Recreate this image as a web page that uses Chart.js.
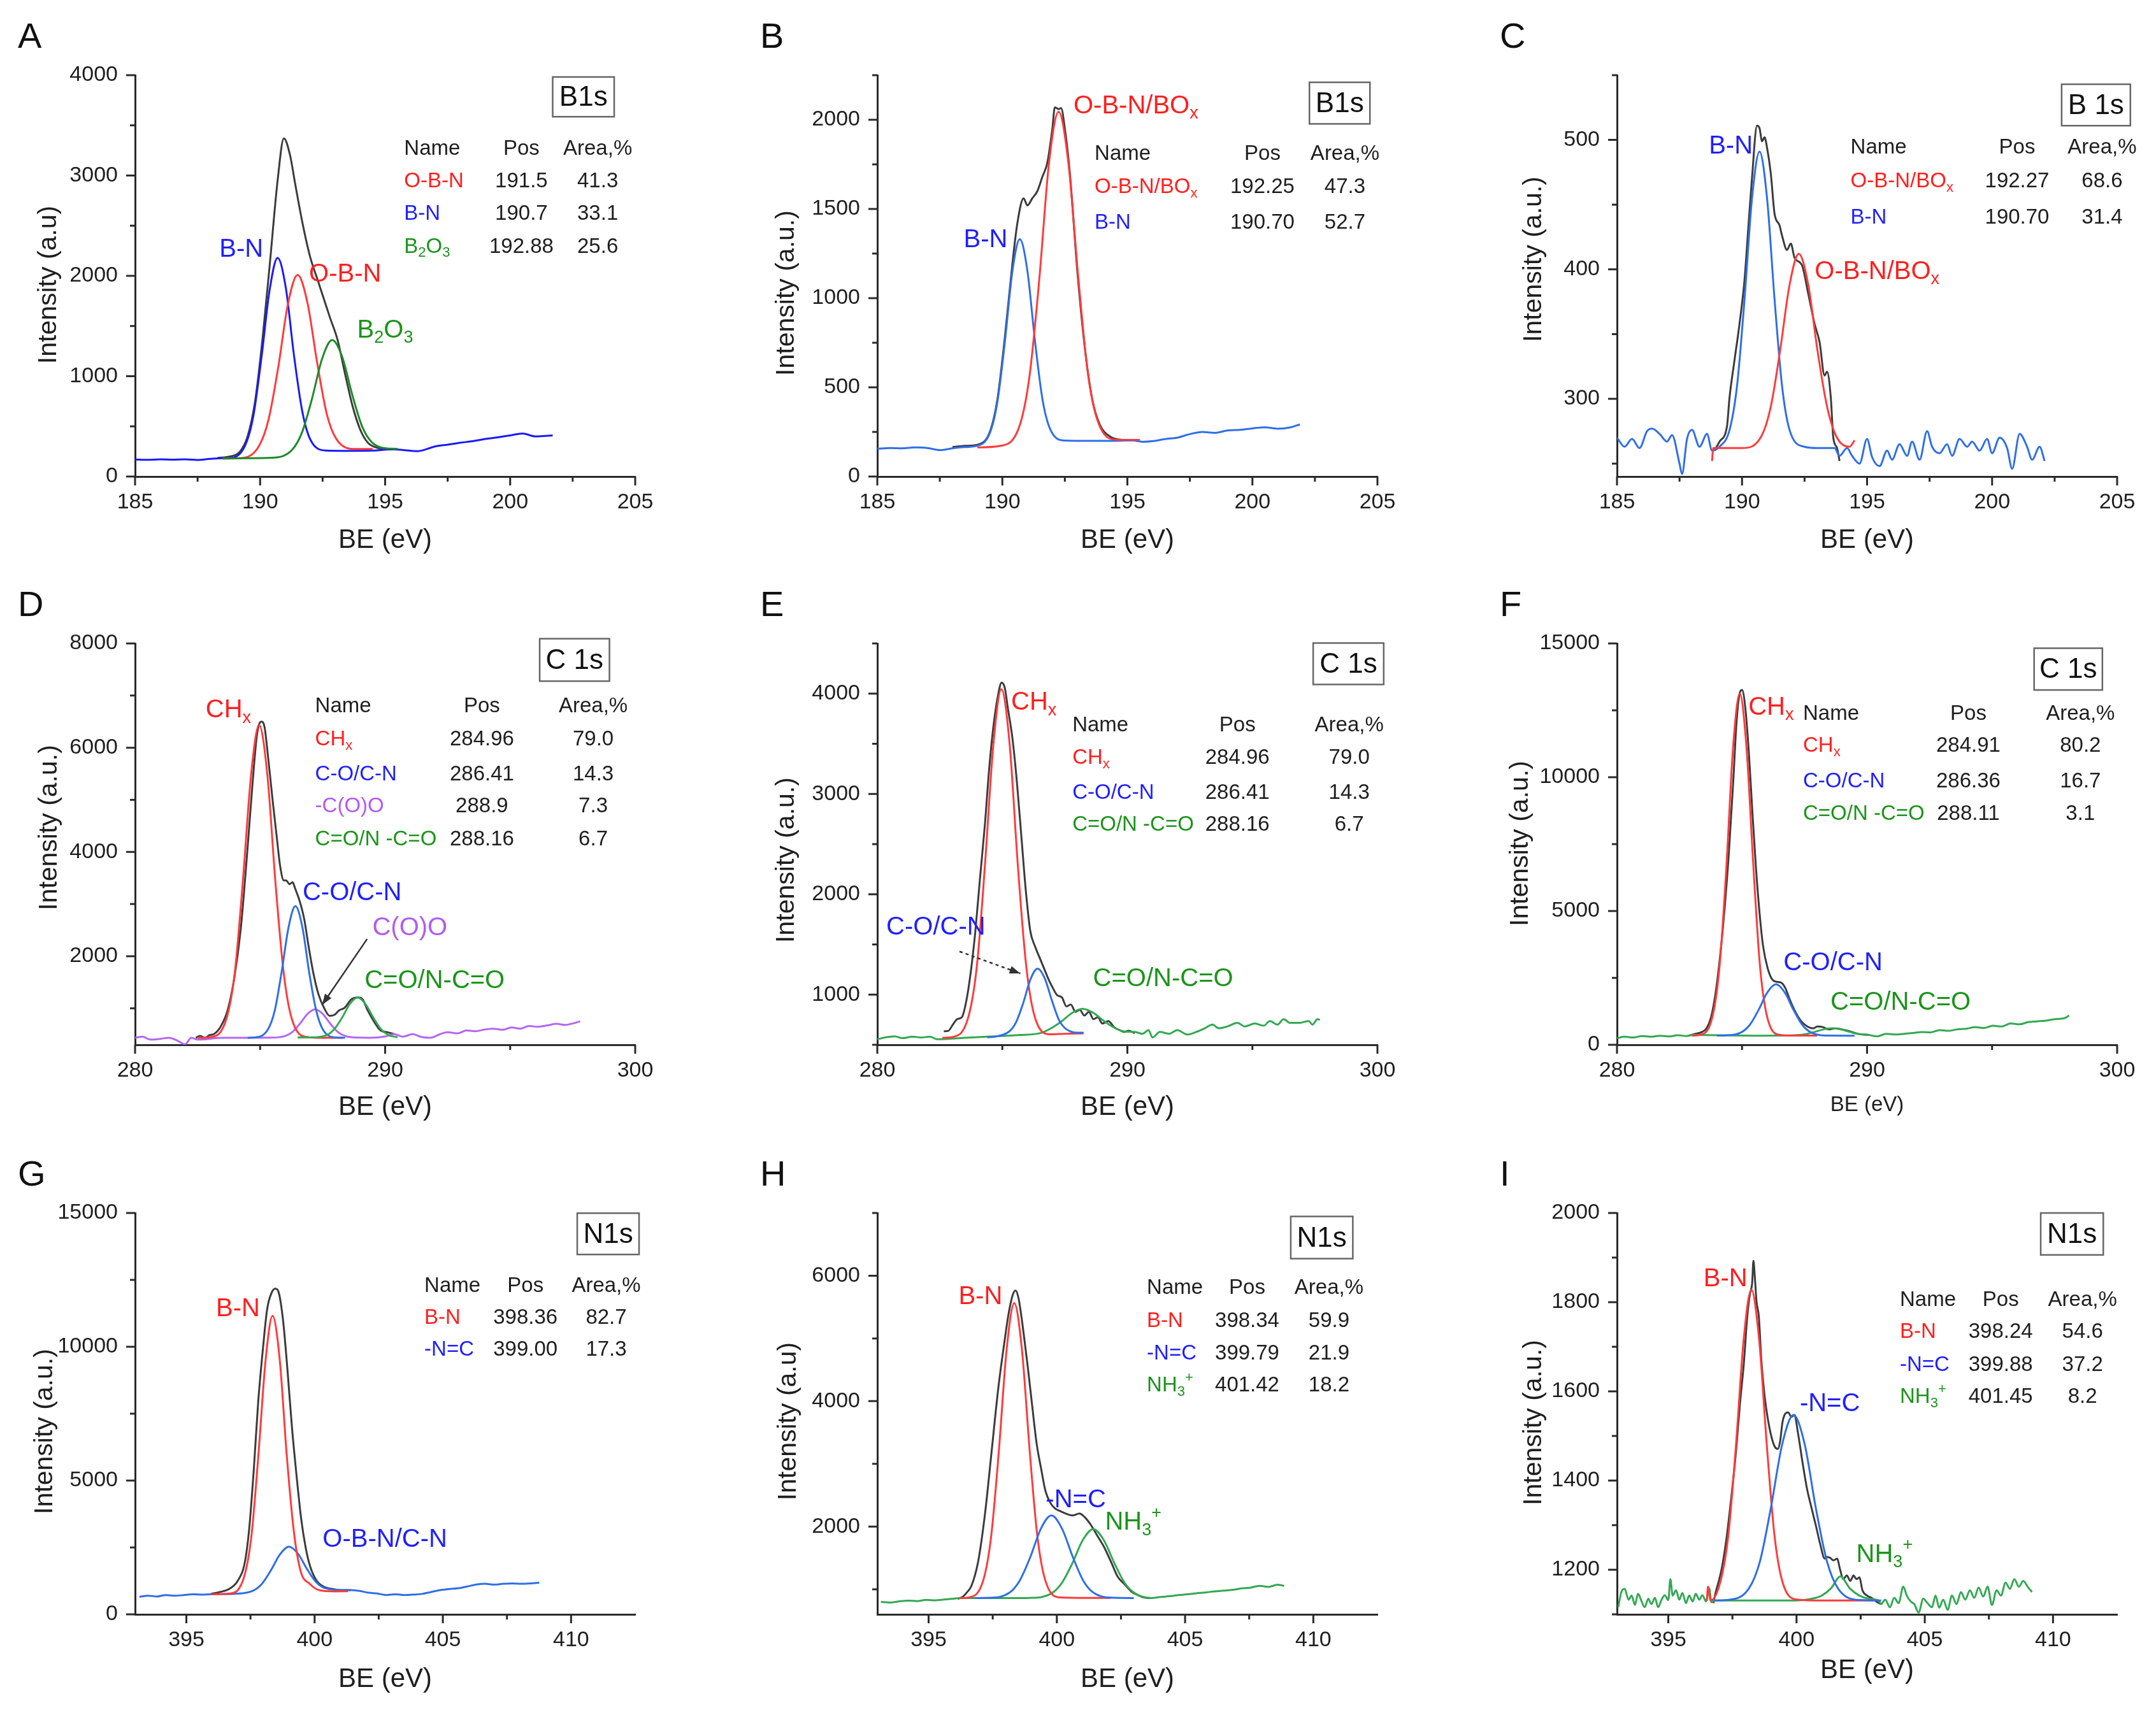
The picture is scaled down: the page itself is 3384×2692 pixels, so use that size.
<!DOCTYPE html>
<html>
<head>
<meta charset="utf-8">
<title>XPS B1s / C1s / N1s</title>
<script src="https://cdn.jsdelivr.net/npm/chart.js@4.4.1/dist/chart.umd.min.js"></script>
<style>
  html, body { margin: 0; padding: 0; background: #fff; }
  body { width: 3384px; height: 2692px; position: relative; overflow: hidden; }
  canvas { position: absolute; }
</style>
</head>
<body>
<script>
// ---- tick labels ----
const X_B_MAJ = [185, 190, 195, 200, 205];
const X_B_MIN = [187.5, 192.5, 197.5, 202.5];
const X_C_MAJ = [280, 290, 300];
const X_C_MIN = [285, 295];
const X_N_MAJ = [395, 400, 405, 410];
const X_N_MIN = [397.5, 402.5, 407.5];

// ---- A : B1s ----
const A_BLUE_X = [185, 185.5, 186, 186.5, 187, 187.5, 188, 188.5, 188.75, 189.4, 189.73, 190.05, 190.38, 190.7, 191.03, 191.35, 191.68, 192.0, 192.65, 193.5, 194.5, 195.3, 195.8, 196.3, 197.0, 197.5, 198.0, 198.5, 199.0, 199.5, 200.0, 200.5, 201.0, 201.4, 201.7];
const A_BLUE_Y = [170, 166, 172, 168, 171, 165, 176, 183, 184, 308, 603, 1177, 1858, 2180, 1878, 1217, 658, 373, 259, 256, 258, 272, 262, 253, 300, 318, 337, 352, 374, 390, 410, 428, 400, 405, 410];
const A_RED_X = [188.5, 189.18, 189.95, 190.34, 190.73, 191.11, 191.5, 191.89, 192.28, 192.66, 193.05, 193.83, 194.5];
const A_RED_Y = [180, 183, 302, 570, 1097, 1716, 2010, 1736, 1137, 630, 374, 274, 275];
const A_GREEN_X = [188.5, 189.5, 190.48, 191.28, 191.68, 192.08, 192.48, 192.88, 193.28, 193.68, 194.08, 194.48, 195.28, 195.5];
const A_GREEN_Y = [180, 183, 187, 266, 442, 780, 1175, 1360, 1195, 820, 499, 339, 277, 276];
const A_BLACK_X = [188.3, 188.8, 189.2, 189.5, 189.8, 190.1, 190.4, 190.7, 190.95, 191.2, 191.4, 191.7, 192.0, 192.3, 192.55, 192.8, 193.1, 193.4, 193.7, 194.0, 194.3, 194.7, 195.0, 195.3];
const A_BLACK_Y = [185, 200, 250, 400, 750, 1380, 2150, 2950, 3370, 3200, 2920, 2520, 2190, 1960, 1770, 1580, 1360, 1020, 700, 470, 340, 285, 275, 272];
const A_Y_MAJ = [0, 1000, 2000, 3000, 4000];
const A_Y_MIN = [500, 1500, 2500, 3500];

// ---- B : B1s ----
const B_BLUE_X = [185, 185.5, 186, 186.5, 187, 187.5, 188, 188.5, 188.9, 189.5, 189.8, 190.1, 190.4, 190.7, 191.0, 191.3, 191.6, 191.9, 192.5, 193.5, 194.5, 195.2, 195.6, 196.0, 196.5, 197.0, 197.5, 198.0, 198.5, 199.0, 199.5, 200.0, 200.5, 201.0, 201.5, 201.9];
const B_BLUE_Y = [155, 160, 158, 163, 160, 148, 158, 165, 170, 244, 417, 753, 1149, 1330, 1155, 767, 437, 270, 202, 200, 200, 203, 195, 198, 210, 218, 238, 250, 245, 258, 262, 270, 276, 268, 275, 292];
const B_RED_X = [189.0, 189.93, 190.7, 191.09, 191.48, 191.86, 192.25, 192.64, 193.03, 193.41, 193.8, 194.58, 195.5];
const B_RED_Y = [163, 172, 289, 567, 1110, 1750, 2045, 1760, 1127, 590, 317, 206, 205];
const B_BLACK_X = [188.0, 188.5, 189.0, 189.5, 189.8, 190.1, 190.4, 190.6, 190.85, 191.0, 191.2, 191.4, 191.6, 191.8, 192.0, 192.1, 192.25, 192.35, 192.5, 192.7, 193.0, 193.3, 193.6, 193.9, 194.3, 194.8, 195.3];
const B_BLACK_Y = [165, 172, 178, 250, 430, 780, 1190, 1420, 1560, 1520, 1560, 1600, 1680, 1760, 1950, 2070, 2060, 2065, 1950, 1700, 1150, 720, 430, 290, 225, 205, 203];
const B_Y_MAJ = [0, 500, 1000, 1500, 2000];
const B_Y_MIN = [250, 750, 1250, 1750, 2250];

// ---- C : B 1s ----
const C_BLUE_X = [185.0, 185.3, 185.6, 185.9, 186.2, 186.4, 186.7, 187.0, 187.2, 187.5, 187.6, 187.8, 188.0, 188.3, 188.6, 188.8, 189.1, 189.5, 189.8, 190.1, 190.4, 190.7, 191.0, 191.3, 191.6, 191.9, 192.5, 193.0, 193.7, 193.9, 194.2, 194.4, 194.7, 195.0, 195.2, 195.5, 195.8, 196.0, 196.3, 196.6, 196.8, 197.1, 197.4, 197.6, 197.9, 198.2, 198.4, 198.7, 199.0, 199.2, 199.5, 199.8, 200.0, 200.3, 200.6, 200.8, 201.1, 201.4, 201.6, 201.9, 202.1];
const C_BLUE_Y = [270, 263, 269, 262, 275, 277, 273, 267, 272, 250, 242, 269, 276, 263, 273, 260, 263, 276, 310, 377, 455, 491, 455, 377, 310, 276, 263, 262, 262, 256, 262, 256, 250, 269, 255, 248, 260, 253, 265, 256, 267, 253, 275, 263, 258, 265, 256, 269, 263, 267, 260, 269, 258, 270, 262, 246, 273, 263, 253, 263, 252];
const C_RED_X = [188.8, 188.85, 189.2, 190.0, 190.77, 191.15, 191.52, 191.9, 192.27, 192.65, 193.02, 193.4, 193.77, 194.3, 194.5];
const C_RED_Y = [252, 262, 262, 262, 271, 294, 337, 388, 412, 388, 337, 294, 271, 263, 268];
const C_BLACK_X = [188.9, 189.1, 189.4, 189.5, 189.7, 189.9, 190.1, 190.25, 190.4, 190.6, 190.7, 190.8, 190.9, 191.0, 191.15, 191.3, 191.5, 191.6, 191.8, 191.95, 192.1, 192.4, 192.65, 192.9, 193.1, 193.3, 193.4, 193.55, 193.65, 193.8, 193.9];
const C_BLACK_Y = [260, 267, 279, 301, 330, 358, 392, 432, 471, 511, 509, 499, 502, 494, 474, 443, 434, 426, 415, 420, 409, 403, 381, 358, 344, 318, 321, 301, 270, 262, 252];
const C_Y_MAJ = [300, 400, 500];
const C_Y_MIN = [250, 350, 450, 550];

// ---- D : C 1s ----
const D_PURPLE_X = [280.0, 280.3, 280.6, 281.0, 281.35, 281.7, 282.0, 282.25, 282.5, 283.5, 284.5, 285.4, 286.0, 286.3, 286.6, 286.9, 287.2, 287.5, 287.8, 288.1, 288.4, 289.0, 289.4, 290.0, 290.35, 290.7, 291.1, 291.45, 291.8, 292.2, 292.5, 292.9, 293.25, 293.6, 293.95, 294.3, 294.7, 295.05, 295.4, 295.75, 296.1, 296.5, 296.85, 297.2, 297.55, 297.8];
const D_PURPLE_Y = [435, 456, 400, 414, 435, 379, 309, 435, 400, 435, 435, 436, 469, 550, 709, 895, 982, 895, 709, 550, 469, 436, 435, 460, 505, 456, 505, 449, 435, 505, 540, 519, 575, 561, 589, 610, 589, 632, 610, 660, 646, 674, 702, 681, 716, 751];
const D_RED_X = [282.5, 283.01, 283.66, 283.99, 284.31, 284.64, 284.96, 285.29, 285.61, 285.94, 286.26, 286.91, 287.5, 288.3];
const D_RED_Y = [435, 447, 810, 1695, 3435, 5481, 6435, 5481, 3435, 1695, 810, 447, 435, 435];
const D_BLUE_X = [284.5, 284.76, 285.31, 285.59, 285.86, 286.14, 286.41, 286.69, 286.96, 287.24, 287.51, 288.06, 288.4];
const D_BLUE_Y = [435, 440, 593, 965, 1697, 2559, 2960, 2559, 1697, 965, 593, 440, 435];
const D_GREEN_X = [286.5, 286.99, 287.65, 287.96, 288.28, 288.59, 288.9, 289.21, 289.53, 289.84, 290.15, 290.5];
const D_GREEN_Y = [440, 442, 483, 597, 821, 1084, 1207, 1084, 821, 597, 483, 445];
const D_BLACK_X = [282.43, 282.6, 282.8, 282.97, 283.15, 283.42, 283.7, 283.96, 284.23, 284.5, 284.68, 284.86, 284.95, 285.05, 285.17, 285.3, 285.5, 285.68, 285.8, 285.95, 286.04, 286.18, 286.3, 286.4, 286.58, 286.76, 286.94, 287.12, 287.33, 287.57, 287.78, 287.98, 288.16, 288.38, 288.65, 288.92, 289.1, 289.3, 289.55, 289.82, 290.1, 290.36];
const D_BLACK_Y = [435, 470, 435, 484, 505, 646, 961, 1558, 2540, 4084, 5207, 6189, 6435, 6500, 6414, 5909, 4996, 4225, 3733, 3453, 3453, 3382, 3420, 3300, 3060, 2720, 2189, 1698, 1277, 996, 856, 877, 961, 1010, 1172, 1207, 1172, 961, 751, 575, 540, 505];
const D_Y_MAJ = [2000, 4000, 6000, 8000];
const D_Y_MIN = [1000, 3000, 5000, 7000];

// ---- E : C 1s ----
const E_GREEN_X = [280.0, 280.3, 280.7, 281.0, 281.4, 281.76, 282.1, 282.4, 283.5, 284.5, 285.7, 286.5, 286.92, 287.35, 287.78, 288.2, 288.63, 289.05, 289.48, 289.9, 290.3, 290.6, 290.85, 291.0, 291.3, 291.67, 292.0, 292.4, 292.75, 293.1, 293.4, 293.65, 294.0, 294.4, 294.7, 295.1, 295.45, 295.7, 296.0, 296.25, 296.5, 296.9, 297.25, 297.4, 297.6, 297.7];
const E_GREEN_Y = [555, 573, 584, 566, 581, 573, 581, 555, 570, 582, 598, 615, 660, 730, 816, 858, 820, 740, 670, 632, 628, 610, 646, 573, 628, 610, 646, 603, 628, 665, 701, 665, 683, 719, 683, 712, 690, 737, 701, 756, 719, 719, 737, 701, 756, 748];
const E_RED_X = [282.6, 283.01, 283.66, 283.99, 284.31, 284.64, 284.96, 285.29, 285.61, 285.94, 286.26, 286.91, 287.5, 288.25];
const E_RED_Y = [570, 578, 794, 1305, 2310, 3490, 4044, 3500, 2322, 1320, 812, 605, 610, 615];
const E_BLUE_X = [284.4, 284.68, 285.26, 285.55, 285.84, 286.12, 286.41, 286.7, 286.99, 287.27, 287.56, 288.13, 288.25];
const E_BLUE_Y = [575, 580, 630, 725, 920, 1150, 1259, 1160, 935, 745, 655, 620, 620];
const E_BLACK_X = [282.66, 282.84, 283.02, 283.2, 283.38, 283.56, 283.74, 283.92, 284.1, 284.3, 284.48, 284.66, 284.84, 284.97, 285.1, 285.22, 285.4, 285.58, 285.76, 285.94, 286.12, 286.3, 286.48, 286.66, 286.84, 287.02, 287.2, 287.38, 287.56, 287.74, 287.92, 288.1, 288.28, 288.46, 288.64, 288.82, 289.0, 289.24, 289.47, 289.69, 289.87, 290.05, 290.3];
const E_BLACK_Y = [635, 639, 701, 756, 774, 938, 1230, 1631, 2141, 2688, 3271, 3709, 4000, 4110, 4055, 3855, 3563, 3125, 2579, 2032, 1631, 1485, 1375, 1266, 1157, 1066, 993, 974, 883, 902, 829, 847, 792, 829, 756, 774, 712, 737, 675, 646, 628, 639, 617];
const E_Y_MAJ = [1000, 2000, 3000, 4000];
const E_Y_MIN = [500, 1500, 2500, 3500, 4500];

// ---- F : C 1s ----
const F_GREEN_X = [280.0, 280.3, 280.65, 281.0, 281.37, 281.72, 282.08, 282.43, 282.79, 283.05, 285.5, 286.5, 287.2, 287.55, 287.9, 288.25, 288.6, 288.95, 289.3, 289.65, 290.07, 290.4, 290.77, 291.13, 291.48, 291.84, 292.19, 292.55, 292.9, 293.26, 293.6, 293.97, 294.32, 294.68, 295.03, 295.39, 295.74, 296.1, 296.45, 296.8, 297.16, 297.5, 297.87, 298.08];
const F_GREEN_Y = [247, 301, 274, 329, 301, 342, 315, 356, 329, 370, 342, 345, 362, 400, 480, 575, 620, 578, 485, 405, 370, 315, 411, 384, 411, 438, 479, 466, 548, 521, 575, 603, 658, 630, 712, 685, 795, 767, 849, 877, 904, 959, 986, 1096];
const F_RED_X = [283.0, 283.3, 283.84, 284.11, 284.38, 284.64, 284.91, 285.18, 285.45, 285.71, 285.98, 286.52, 287.0, 288.0];
const F_RED_Y = [342, 368, 1141, 3026, 6732, 11090, 13123, 11090, 6732, 3026, 1141, 368, 345, 345];
const F_BLUE_X = [284.0, 284.26, 284.96, 285.31, 285.66, 286.01, 286.36, 286.71, 287.06, 287.41, 287.76, 288.46, 289.5];
const F_BLUE_Y = [342, 346, 462, 745, 1301, 1955, 2260, 1955, 1301, 745, 462, 346, 342];
const F_BLACK_X = [282.87, 283.14, 283.4, 283.58, 283.76, 283.94, 284.12, 284.3, 284.47, 284.65, 284.77, 284.88, 285.0, 285.13, 285.27, 285.41, 285.55, 285.7, 285.84, 286.02, 286.19, 286.37, 286.55, 286.73, 286.9, 287.13, 287.36, 287.61, 287.84, 288.02, 288.25, 288.46, 288.73, 289.0, 289.26, 289.53, 289.8, 290.07];
const F_BLACK_Y = [342, 411, 479, 616, 1027, 1918, 3288, 5068, 7123, 9863, 11918, 13014, 13260, 12603, 10959, 8767, 6712, 4932, 3699, 2877, 2466, 2356, 2329, 2123, 1712, 1233, 890, 685, 616, 685, 658, 575, 616, 575, 521, 438, 384, 370];
const F_Y_MAJ = [0, 5000, 10000, 15000];
const F_Y_MIN = [2500, 7500, 12500];

// ---- G : N1s ----
const G_BLUE_X = [393.17, 393.5, 393.86, 394.2, 394.56, 394.9, 395.26, 395.6, 395.96, 396.9, 397.6, 397.95, 398.3, 398.65, 399.0, 399.35, 399.7, 400.05, 400.4, 401.1, 401.4, 401.75, 402.1, 402.44, 402.8, 403.14, 403.5, 403.85, 404.2, 404.54, 404.9, 405.25, 405.6, 405.95, 406.3, 406.65, 407.0, 407.35, 407.7, 408.05, 408.4, 408.76];
const G_BLUE_Y = [654, 695, 668, 723, 695, 723, 751, 737, 752, 770, 885, 1145, 1650, 2240, 2531, 2270, 1700, 1215, 980, 905, 904, 876, 807, 779, 723, 751, 723, 737, 765, 834, 904, 946, 974, 1043, 1113, 1140, 1113, 1140, 1154, 1140, 1154, 1182];
const G_RED_X = [396.0, 396.71, 397.26, 397.54, 397.81, 398.09, 398.36, 398.64, 398.91, 399.19, 399.46, 399.8, 400.2, 400.8, 401.3];
const G_RED_Y = [752, 780, 1430, 2960, 5975, 9510, 11154, 9520, 5990, 3100, 1600, 1150, 900, 860, 862];
const G_BLACK_X = [395.96, 396.3, 396.66, 397.0, 397.28, 397.45, 397.63, 397.8, 397.98, 398.15, 398.33, 398.47, 398.6, 398.77, 398.95, 399.12, 399.3, 399.47, 399.65, 399.82, 400.08, 400.34, 400.7, 401.04, 401.4];
const G_BLACK_Y = [765, 834, 946, 1252, 1947, 3199, 5424, 7928, 9875, 11405, 12031, 12170, 12031, 10988, 9040, 6954, 5146, 3616, 2503, 1808, 1252, 1043, 946, 904, 904];
const G_Y_MAJ = [0, 5000, 10000, 15000];
const G_Y_MIN = [2500, 7500, 12500];

// ---- H : N1s ----
const H_GREEN_X = [393.14, 393.49, 393.84, 394.2, 394.56, 394.9, 395.26, 395.6, 395.96, 396.23, 398.5, 398.94, 399.77, 400.18, 400.6, 401.01, 401.42, 401.83, 402.25, 402.66, 403.07, 403.68, 404.04, 404.39, 404.74, 405.09, 405.44, 405.79, 406.14, 406.5, 406.84, 407.2, 407.54, 407.9, 408.25, 408.6, 408.86];
const H_GREEN_Y = [801, 789, 806, 818, 812, 830, 824, 836, 848, 860, 860, 862, 929, 1091, 1410, 1784, 1959, 1784, 1410, 1091, 929, 860, 877, 889, 907, 919, 936, 948, 966, 978, 990, 1013, 1025, 1055, 1037, 1072, 1055];
const H_RED_X = [396.2, 396.54, 397.14, 397.44, 397.74, 398.04, 398.34, 398.64, 398.94, 399.24, 399.54, 400.14, 401.0, 402.1];
const H_RED_Y = [858, 868, 1155, 1848, 3212, 4815, 5563, 4815, 3212, 1848, 1155, 868, 862, 862];
const H_BLUE_X = [396.8, 397.32, 398.14, 398.55, 398.97, 399.38, 399.79, 400.2, 400.62, 401.03, 401.44, 402.27, 403.0];
const H_BLUE_Y = [860, 863, 942, 1137, 1518, 1968, 2177, 1968, 1518, 1137, 942, 863, 860];
const H_BLACK_X = [396.14, 396.32, 396.5, 396.67, 396.93, 397.2, 397.46, 397.72, 397.95, 398.12, 398.28, 398.39, 398.51, 398.68, 398.86, 399.04, 399.21, 399.39, 399.56, 399.74, 399.91, 400.09, 400.35, 400.61, 400.88, 401.09, 401.32, 401.58, 401.84, 402.11, 402.37, 402.63, 402.9, 403.16, 403.42, 403.68];
const H_BLACK_Y = [848, 877, 954, 1055, 1439, 2207, 3211, 4216, 4925, 5397, 5693, 5764, 5634, 5161, 4570, 3920, 3329, 2916, 2561, 2384, 2295, 2254, 2207, 2177, 2207, 2148, 2030, 1852, 1675, 1439, 1202, 1084, 966, 907, 866, 860];
const H_Y_MAJ = [2000, 4000, 6000];
const H_Y_MIN = [1000, 3000, 5000, 7000];

// ---- I : N1s ----
const I_GREEN_X = [393.05, 393.17, 393.3, 393.45, 393.57, 393.7, 393.82, 393.96, 394.08, 394.22, 394.34, 394.48, 394.6, 394.74, 394.86, 395.0, 395.08, 395.17, 395.3, 395.43, 395.55, 395.69, 395.81, 395.95, 396.07, 396.21, 396.33, 396.47, 396.6, 396.68,
  396.8, 400.0, 400.6, 400.98, 401.34, 401.71, 402.08, 402.45, 402.82, 403.2,
  403.29, 403.46, 403.64, 403.81, 403.98, 404.16, 404.3, 404.45, 404.59, 404.76, 404.94, 405.11, 405.28, 405.42, 405.56, 405.72, 405.89, 406.06, 406.24, 406.41, 406.58, 406.76, 406.93, 407.1, 407.28, 407.45, 407.62, 407.8, 407.97, 408.15, 408.32, 408.49, 408.67, 408.84, 409.01, 409.18];
const I_GREEN_Y = [1116, 1150, 1157, 1133, 1142, 1121, 1146, 1129, 1116, 1135, 1123, 1137, 1116, 1133, 1143, 1132, 1179, 1142, 1154, 1133, 1148, 1125, 1142, 1129, 1146, 1133, 1143, 1129, 1158, 1127,
  1131, 1131, 1135, 1142, 1158, 1185, 1158, 1142, 1135, 1131,
  1123, 1133, 1116, 1137, 1125, 1162, 1142, 1129, 1123, 1104, 1135, 1125, 1116, 1142, 1115, 1133, 1110, 1142, 1123, 1150, 1133, 1154, 1137, 1160, 1140, 1162, 1121, 1154, 1142, 1171, 1157, 1179, 1162, 1175, 1162, 1150];
const I_RED_X = [396.5, 396.55, 396.65, 397.04, 397.34, 397.64, 397.94, 398.24, 398.54, 398.84, 399.14, 399.44, 400.04, 401.0, 403.0];
const I_RED_Y = [1131, 1162, 1131, 1175, 1277, 1480, 1717, 1828, 1717, 1480, 1277, 1175, 1133, 1131, 1131];
const I_BLUE_X = [396.8, 397.26, 398.13, 398.57, 399.0, 399.44, 399.88, 400.32, 400.75, 401.19, 401.63, 402.5, 403.3];
const I_BLUE_Y = [1131, 1132, 1157, 1218, 1339, 1481, 1547, 1481, 1339, 1218, 1157, 1132, 1131];
const I_BLACK_X = [396.76, 396.85, 396.97, 397.1, 397.28, 397.45, 397.63, 397.8, 397.94, 398.08, 398.18, 398.27, 398.32, 398.37, 398.44, 398.53, 398.63, 398.75, 398.87, 399.01, 399.15, 399.27, 399.36, 399.45, 399.53, 399.67, 399.8, 399.92, 400.05, 400.23, 400.4, 400.57, 400.75, 400.92, 401.1, 401.18, 401.3, 401.44, 401.58, 401.7, 401.82, 401.96, 402.1, 402.22, 402.34, 402.45, 402.57, 402.75, 402.92, 403.1, 403.29];
const I_BLACK_Y = [1125, 1150, 1175, 1208, 1275, 1359, 1459, 1576, 1659, 1768, 1818, 1843, 1893, 1860, 1801, 1768, 1668, 1592, 1542, 1501, 1476, 1471, 1488, 1530, 1547, 1553, 1543, 1547, 1509, 1442, 1384, 1342, 1300, 1258, 1225, 1229, 1227, 1221, 1225, 1200, 1179, 1187, 1175, 1187, 1179, 1183, 1154, 1142, 1137, 1129, 1123];
const I_Y_MAJ = [1200, 1400, 1600, 1800, 2000];
const I_Y_MIN = [1100, 1300, 1500, 1700, 1900];

// ---- styling / layout ----
const FONT = '"Liberation Sans", Arial, Helvetica, sans-serif';
const AXIS = '#2a2a2a';
const TXT = '#1e1e1e';
const L_BLACK = '#3c3c3c';
const L_RED = '#ff3b3b';
const L_BLUE_A = '#1a1aff';
const L_BLUE = '#2f6fe6';
const L_GREEN_A = '#1f8a2a';
const L_GREEN = '#34a853';
const L_PURPLE = '#b467f2';
const T_RED = '#ff1f1f';
const T_BLUE = '#1f1fff';
const T_GREEN = '#1c941c';
const T_PURPLE = '#b15cf2';

const COL_LEFT = [0, 1165, 2326];
const ROW_TOP = [0, 892, 1786];
const CANVAS_W = [1100, 1100, 1058];
const CANVAS_H = [892, 892, 906];
const AREA_L = 212, AREA_R = 997, AREA_T = 118, AREA_B = 748;
const Y_AXIS_W = 190, X_AXIS_H = 60;

function pts(xs, ys) {
    return xs.map((x, i) => ({ x: x, y: ys[i] }));
}

// little markup: _c = subscript char, ^c = superscript char
function richParts(text) {
    const parts = [];
    for (let i = 0; i < text.length; i++) {
        const ch = text[i];
        if ((ch === '_' || ch === '^') && i + 1 < text.length) {
            parts.push({ s: text[i + 1], k: ch === '_' ? 'sub' : 'sup' });
            i++;
        } else {
            const last = parts[parts.length - 1];
            if (last && last.k === 'n') last.s += ch;
            else parts.push({ s: ch, k: 'n' });
        }
    }
    return parts;
}

function drawRich(ctx, text, x, y, size, color, align) {
    const parts = richParts(text);
    const small = Math.round(size * 0.68);
    let w = 0;
    parts.forEach(p => {
        ctx.font = (p.k === 'n' ? size : small) + 'px ' + FONT;
        p.w = ctx.measureText(p.s).width;
        w += p.w;
    });
    let cx = align === 'center' ? x - w / 2 : (align === 'right' ? x - w : x);
    ctx.fillStyle = color;
    ctx.textAlign = 'left';
    ctx.textBaseline = 'middle';
    parts.forEach(p => {
        ctx.font = (p.k === 'n' ? size : small) + 'px ' + FONT;
        const dy = p.k === 'sub' ? size * 0.3 : (p.k === 'sup' ? -size * 0.38 : 0);
        ctx.fillText(p.s, cx, y + dy);
        cx += p.w;
    });
}

function drawArrow(ctx, x1, y1, x2, y2, dashed) {
    ctx.save();
    ctx.strokeStyle = '#333';
    ctx.fillStyle = '#333';
    ctx.lineWidth = 2.5;
    if (dashed) ctx.setLineDash([5, 5]);
    ctx.beginPath();
    ctx.moveTo(x1, y1);
    ctx.lineTo(x2, y2);
    ctx.stroke();
    ctx.setLineDash([]);
    const ang = Math.atan2(y2 - y1, x2 - x1);
    const L = 18;
    ctx.beginPath();
    ctx.moveTo(x2, y2);
    ctx.lineTo(x2 - L * Math.cos(ang - 0.35), y2 - L * Math.sin(ang - 0.35));
    ctx.lineTo(x2 - L * Math.cos(ang + 0.35), y2 - L * Math.sin(ang + 0.35));
    ctx.closePath();
    ctx.fill();
    ctx.restore();
}

// draws ticks, titles, panel letter, peak labels, table, core-level box
function decorPlugin(p) {
    return {
        id: 'decor' + p.letter,
        afterDraw(chart) {
            const ctx = chart.ctx;
            const a = chart.chartArea;
            const sx = chart.scales.x, sy = chart.scales.y;
            const px = v => sx.getPixelForValue(v);
            const py = v => sy.getPixelForValue(v);
            ctx.save();

            // outward ticks
            ctx.strokeStyle = AXIS;
            ctx.lineWidth = 3;
            ctx.beginPath();
            p.xt[0].forEach(v => { ctx.moveTo(px(v), a.bottom); ctx.lineTo(px(v), a.bottom + 14); });
            p.xt[1].forEach(v => { ctx.moveTo(px(v), a.bottom); ctx.lineTo(px(v), a.bottom + 8); });
            p.yt[0].forEach(v => { ctx.moveTo(a.left, py(v)); ctx.lineTo(a.left - 14, py(v)); });
            p.yt[1].forEach(v => { ctx.moveTo(a.left, py(v)); ctx.lineTo(a.left - 8, py(v)); });
            ctx.stroke();

            // axis titles
            ctx.fillStyle = TXT;
            ctx.textAlign = 'center';
            ctx.textBaseline = 'middle';
            ctx.font = (p.xTitleSize || 42) + 'px ' + FONT;
            ctx.fillText('BE (eV)', (a.left + a.right) / 2, a.bottom + p.xTitleDy);
            ctx.save();
            ctx.translate(a.left + p.yTitlePos[0], (a.top + a.bottom) / 2 + p.yTitlePos[1]);
            ctx.rotate(-Math.PI / 2);
            ctx.font = '41px ' + FONT;
            ctx.fillText(p.yTitle, 0, 0);
            ctx.restore();

            // panel letter
            ctx.font = '56px ' + FONT;
            ctx.textAlign = 'left';
            ctx.fillStyle = '#111';
            ctx.fillText(p.letter, 28, 60);

            // peak labels
            p.labels.forEach(l => drawRich(ctx, l[0], px(l[1]), py(l[2]), 40, l[3], 'center'));

            // arrow
            if (p.arrow) {
                const r = p.arrow;
                drawArrow(ctx, px(r[0]), py(r[1]), px(r[2]), py(r[3]), r[4]);
            }

            // fit table
            const t = p.table;
            drawRich(ctx, 'Name', px(t.nameX), py(t.rows[0]), 33, TXT, 'left');
            drawRich(ctx, 'Pos', px(t.posX), py(t.rows[0]), 33, TXT, 'center');
            drawRich(ctx, 'Area,%', px(t.areaX), py(t.rows[0]), 33, TXT, 'center');
            t.entries.forEach((e, i) => {
                const yy = py(t.rows[i + 1]);
                drawRich(ctx, e[0], px(t.nameX), yy, 33, e[3], 'left');
                drawRich(ctx, e[1], px(t.posX), yy, 33, TXT, 'center');
                drawRich(ctx, e[2], px(t.areaX), yy, 33, TXT, 'center');
            });

            // core level box
            const b = p.box;
            const bx0 = px(b[0]), bx1 = px(b[1]), by0 = py(b[2]), by1 = py(b[3]);
            ctx.strokeStyle = '#666';
            ctx.lineWidth = 2.5;
            ctx.strokeRect(bx0, by0, bx1 - bx0, by1 - by0);
            drawRich(ctx, b[4], (bx0 + bx1) / 2, (by0 + by1) / 2 + 2, 44, '#111', 'center');

            ctx.restore();
        }
    };
}

const PANELS = [
    {
        letter: 'A', col: 0, row: 0, xr: [185, 205], yr: [0, 4000], xt: [X_B_MAJ, X_B_MIN], yt: [A_Y_MAJ, A_Y_MIN],
        yTitle: 'Intensity (a.u)', yTitlePos: [-135, 14], xTitleDy: 100,
        series: [[A_BLACK_X, A_BLACK_Y, L_BLACK, 10], [A_BLUE_X, A_BLUE_Y, L_BLUE_A, 3], [A_RED_X, A_RED_Y, L_RED, 2], [A_GREEN_X, A_GREEN_Y, L_GREEN_A, 1]],
        labels: [['B-N', 189.25, 2260, T_BLUE], ['O-B-N', 193.4, 2010, T_RED], ['B_2O_3', 195.0, 1454, T_GREEN]],
        table: { nameX: 195.76, posX: 200.45, areaX: 203.5, rows: [3267, 2938, 2619, 2289],
            entries: [['O-B-N', '191.5', '41.3', T_RED], ['B-N', '190.7', '33.1', T_BLUE], ['B_2O_3', '192.88', '25.6', T_GREEN]] },
        box: [201.7, 204.16, 3982, 3586, 'B1s']
    },
    {
        letter: 'B', col: 1, row: 0, xr: [185, 205], yr: [0, 2250], xt: [X_B_MAJ, X_B_MIN], yt: [B_Y_MAJ, B_Y_MIN],
        yTitle: 'Intensity (a.u.)', yTitlePos: [-142, 27], xTitleDy: 100,
        series: [[B_BLACK_X, B_BLACK_Y, L_BLACK, 10], [B_BLUE_X, B_BLUE_Y, L_BLUE, 3], [B_RED_X, B_RED_Y, L_RED, 2]],
        labels: [['O-B-N/BO_x', 195.34, 2076, T_RED], ['B-N', 189.33, 1324, T_BLUE]],
        table: { nameX: 193.69, posX: 200.4, areaX: 203.7, rows: [1808, 1623, 1423],
            entries: [['O-B-N/BO_x', '192.25', '47.3', T_RED], ['B-N', '190.70', '52.7', T_BLUE]] },
        box: [202.28, 204.7, 2210, 1977, 'B1s']
    },
    {
        letter: 'C', col: 2, row: 0, xr: [185, 205], yr: [240, 550], xt: [X_B_MAJ, X_B_MIN], yt: [C_Y_MAJ, C_Y_MIN],
        yTitle: 'Intensity (a.u.)', yTitlePos: [-130, -26], xTitleDy: 100,
        series: [[C_BLACK_X, C_BLACK_Y, L_BLACK, 10], [C_BLUE_X, C_BLUE_Y, L_BLUE, 3], [C_RED_X, C_RED_Y, L_RED, 2]],
        labels: [['B-N', 189.55, 495, T_BLUE], ['O-B-N/BO_x', 195.4, 398, T_RED]],
        table: { nameX: 194.34, posX: 201.0, areaX: 204.4, rows: [494, 468, 440],
            entries: [['O-B-N/BO_x', '192.27', '68.6', T_RED], ['B-N', '190.70', '31.4', T_BLUE]] },
        box: [202.78, 205.53, 543, 511, 'B 1s']
    },
    {
        letter: 'D', col: 0, row: 1, xr: [280, 300], yr: [300, 8000], xt: [X_C_MAJ, X_C_MIN], yt: [D_Y_MAJ, D_Y_MIN],
        yTitle: 'Intensity (a.u.)', yTitlePos: [-134, -26], xTitleDy: 98,
        series: [[D_BLACK_X, D_BLACK_Y, L_BLACK, 10], [D_PURPLE_X, D_PURPLE_Y, L_PURPLE, 4], [D_RED_X, D_RED_Y, L_RED, 3], [D_BLUE_X, D_BLUE_Y, L_BLUE, 2], [D_GREEN_X, D_GREEN_Y, L_GREEN, 1]],
        labels: [['CH_x', 283.73, 6716, T_RED], ['C-O/C-N', 288.68, 3207, T_BLUE], ['C(O)O', 290.99, 2540, T_PURPLE], ['C=O/N-C=O', 291.98, 1523, T_GREEN]],
        arrow: [289.28, 2330, 287.48, 1067, false],
        table: { nameX: 287.2, posX: 293.87, areaX: 298.32, rows: [6786, 6154, 5488, 4870, 4239],
            entries: [['CH_x', '284.96', '79.0', T_RED], ['C-O/C-N', '286.41', '14.3', T_BLUE], ['-C(O)O', '288.9', '7.3', T_PURPLE], ['C=O/N -C=O', '288.16', '6.7', T_GREEN]] },
        box: [296.18, 298.97, 8091, 7277, 'C 1s']
    },
    {
        letter: 'E', col: 1, row: 1, xr: [280, 300], yr: [500, 4500], xt: [X_C_MAJ, X_C_MIN], yt: [E_Y_MAJ, E_Y_MIN],
        yTitle: 'Intensity (a.u.)', yTitlePos: [-142, 25], xTitleDy: 98,
        series: [[E_BLACK_X, E_BLACK_Y, L_BLACK, 10], [E_GREEN_X, E_GREEN_Y, L_GREEN, 4], [E_RED_X, E_RED_Y, L_RED, 3], [E_BLUE_X, E_BLUE_Y, L_BLUE, 2]],
        labels: [['CH_x', 286.26, 3909, T_RED], ['C-O/C-N', 282.34, 1667, T_BLUE], ['C=O/N-C=O', 291.43, 1157, T_GREEN]],
        arrow: [283.29, 1430, 285.72, 1211, true],
        table: { nameX: 287.8, posX: 294.4, areaX: 298.87, rows: [3680, 3355, 3009, 2688],
            entries: [['CH_x', '284.96', '79.0', T_RED], ['C-O/C-N', '286.41', '14.3', T_BLUE], ['C=O/N -C=O', '288.16', '6.7', T_GREEN]] },
        box: [297.43, 300.25, 4504, 4091, 'C 1s']
    },
    {
        letter: 'F', col: 2, row: 1, xr: [280, 300], yr: [0, 15000], xt: [X_C_MAJ, X_C_MIN], yt: [F_Y_MAJ, F_Y_MIN],
        yTitle: 'Intensity (a.u.)', yTitlePos: [-151, -1], xTitleDy: 95, xTitleSize: 33,
        series: [[F_BLACK_X, F_BLACK_Y, L_BLACK, 10], [F_GREEN_X, F_GREEN_Y, L_GREEN, 4], [F_RED_X, F_RED_Y, L_RED, 3], [F_BLUE_X, F_BLUE_Y, L_BLUE, 2]],
        labels: [['CH_x', 286.16, 12603, T_RED], ['C-O/C-N', 288.64, 3041, T_BLUE], ['C=O/N-C=O', 291.34, 1575, T_GREEN]],
        table: { nameX: 287.44, posX: 294.05, areaX: 298.53, rows: [12356, 11164, 9836, 8630],
            entries: [['CH_x', '284.91', '80.2', T_RED], ['C-O/C-N', '286.36', '16.7', T_BLUE], ['C=O/N -C=O', '288.11', '3.1', T_GREEN]] },
        box: [296.68, 299.41, 14822, 13260, 'C 1s']
    },
    {
        letter: 'G', col: 0, row: 2, xr: [393, 412.5], yr: [0, 15000], xt: [X_N_MAJ, X_N_MIN], yt: [G_Y_MAJ, G_Y_MIN],
        yTitle: 'Intensity (a.u.)', yTitlePos: [-141, 28], xTitleDy: 102,
        series: [[G_BLACK_X, G_BLACK_Y, L_BLACK, 10], [G_BLUE_X, G_BLUE_Y, L_BLUE, 3], [G_RED_X, G_RED_Y, L_RED, 2]],
        labels: [['B-N', 397.01, 11405, T_RED], ['O-B-N/C-N', 402.74, 2782, T_BLUE]],
        table: { nameX: 404.28, posX: 408.22, areaX: 411.37, rows: [12267, 11085, 9875],
            entries: [['B-N', '398.36', '82.7', T_RED], ['-N=C', '399.00', '17.3', T_BLUE]] },
        box: [410.24, 412.65, 14993, 13449, 'N1s']
    },
    {
        letter: 'H', col: 1, row: 2, xr: [393, 412.5], yr: [600, 7000], xt: [X_N_MAJ, X_N_MIN], yt: [H_Y_MAJ, H_Y_MIN],
        yTitle: 'Intensity (a.u)', yTitlePos: [-139, 12], xTitleDy: 102,
        series: [[H_BLACK_X, H_BLACK_Y, L_BLACK, 10], [H_GREEN_X, H_GREEN_Y, L_GREEN, 4], [H_RED_X, H_RED_Y, L_RED, 3], [H_BLUE_X, H_BLUE_Y, L_BLUE, 2]],
        labels: [['B-N', 397.02, 5663, T_RED], ['-N=C', 400.74, 2414, T_BLUE], ['NH_3^+', 402.98, 2059, T_GREEN]],
        table: { nameX: 403.51, posX: 407.42, areaX: 410.61, rows: [5799, 5279, 4759, 4245],
            entries: [['B-N', '398.34', '59.9', T_RED], ['-N=C', '399.79', '21.9', T_BLUE], ['NH_3^+', '401.42', '18.2', T_GREEN]] },
        box: [409.12, 411.54, 6945, 6272, 'N1s']
    },
    {
        letter: 'I', col: 2, row: 2, xr: [393, 412.5], yr: [1100, 2000], xt: [X_N_MAJ, X_N_MIN], yt: [I_Y_MAJ, I_Y_MIN],
        yTitle: 'Intensity (a.u.)', yTitlePos: [-130, 14], xTitleDy: 88,
        series: [[I_BLACK_X, I_BLACK_Y, L_BLACK, 10], [I_GREEN_X, I_GREEN_Y, L_GREEN, 4], [I_RED_X, I_RED_Y, L_RED, 3], [I_BLUE_X, I_BLUE_Y, L_BLUE, 2]],
        labels: [['B-N', 397.23, 1851, T_RED], ['-N=C', 401.3, 1572, T_BLUE], ['NH_3^+', 403.43, 1233, T_GREEN]],
        table: { nameX: 404.03, posX: 407.96, areaX: 411.15, rows: [1805, 1733, 1659, 1587],
            entries: [['B-N', '398.24', '54.6', T_RED], ['-N=C', '399.88', '37.2', T_BLUE], ['NH_3^+', '401.45', '8.2', T_GREEN]] },
        box: [409.52, 411.96, 2000, 1906, 'N1s']
    }
];

function axisOptions(range, ticks, isX) {
    return {
        type: 'linear',
        position: isX ? 'bottom' : 'left',
        min: range[0],
        max: range[1],
        afterBuildTicks: sc => {
            sc.ticks = ticks[0].concat(ticks[1]).sort((m, n) => m - n).map(v => ({ value: v }));
        },
        afterFit: sc => {
            if (isX) sc.height = X_AXIS_H; else sc.width = Y_AXIS_W;
        },
        grid: { display: false, drawTicks: false },
        border: { display: true, color: AXIS, width: 3 },
        title: { display: false },
        ticks: {
            autoSkip: false,
            maxRotation: 0,
            padding: isX ? 20 : 27,
            color: TXT,
            font: { family: FONT, size: 34 },
            callback: v => ticks[0].includes(v) ? String(v) : ''
        }
    };
}

function makeChart(p) {
    const w = CANVAS_W[p.col], h = CANVAS_H[p.row];
    const cv = document.createElement('canvas');
    cv.width = w;
    cv.height = h;
    cv.style.left = COL_LEFT[p.col] + 'px';
    cv.style.top = ROW_TOP[p.row] + 'px';
    cv.style.width = w + 'px';
    cv.style.height = h + 'px';
    document.body.appendChild(cv);

    return new Chart(cv.getContext('2d'), {
        type: 'line',
        data: {
            datasets: p.series.map(s => ({
                data: pts(s[0], s[1]),
                borderColor: s[2],
                borderWidth: 3,
                pointRadius: 0,
                fill: false,
                cubicInterpolationMode: 'monotone',
                order: s[3]
            }))
        },
        options: {
            responsive: false,
            maintainAspectRatio: false,
            animation: false,
            devicePixelRatio: 1,
            events: [],
            layout: { padding: { left: AREA_L - Y_AXIS_W, top: AREA_T, right: w - AREA_R, bottom: h - AREA_B - X_AXIS_H } },
            plugins: { legend: { display: false }, tooltip: { enabled: false } },
            scales: {
                x: axisOptions(p.xr, p.xt, true),
                y: axisOptions(p.yr, p.yt, false)
            }
        },
        plugins: [decorPlugin(p)]
    });
}

PANELS.forEach(makeChart);
</script>
</body>
</html>
